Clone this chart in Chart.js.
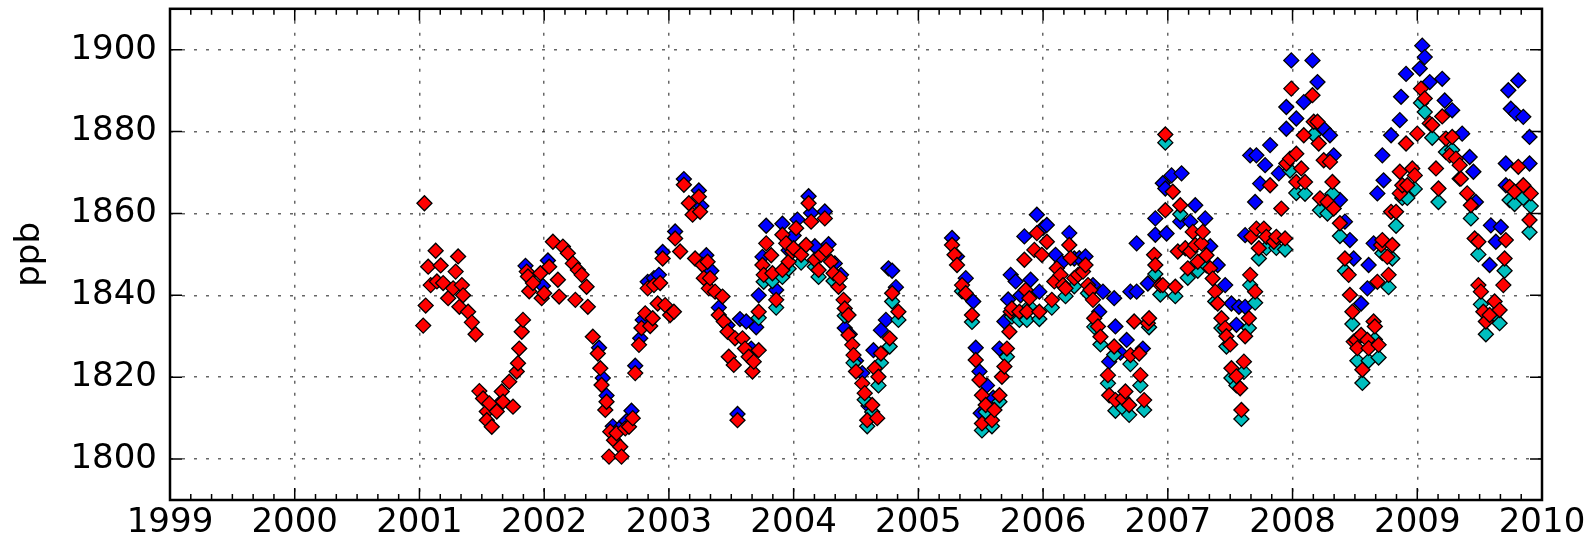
<!DOCTYPE html>
<html>
<head>
<meta charset="utf-8">
<title>ppb</title>
<script src="https://cdn.jsdelivr.net/npm/chart.js@4.4.1/dist/chart.umd.min.js"></script>
<style>
  html, body { margin: 0; padding: 0; background: #fff; }
  #wrap { width: 1589px; height: 547px; }
</style>
</head>
<body>
<div id="wrap"><canvas id="chart" width="1589" height="547"></canvas></div>
<script>
// axis ticks
const yearTicks = [1999, 2000, 2001, 2002, 2003, 2004, 2005, 2006, 2007, 2008, 2009, 2010];
const ppbTicks = [1800, 1820, 1840, 1860, 1880, 1900];

// [decimal year, ppb]
const redPoints = [
  [2001.03,1832.6],[2001.04,1862.5],[2001.05,1837.5],[2001.07,1847],[2001.09,1842.5],[2001.13,1850.9],[2001.14,1843.4],
  [2001.17,1847.3],[2001.19,1843],[2001.23,1839.3],[2001.27,1841.7],[2001.29,1845.8],[2001.31,1849.5],[2001.32,1837.2],
  [2001.34,1842.5],[2001.35,1840],[2001.39,1836],[2001.42,1833.4],[2001.45,1830.5],[2001.48,1816.6],[2001.51,1814.8],
  [2001.54,1811.6],[2001.54,1809.5],[2001.56,1813.6],[2001.58,1807.9],[2001.62,1811.6],[2001.66,1816.5],[2001.67,1814],
  [2001.72,1818.9],[2001.75,1812.8],[2001.78,1821.4],[2001.79,1823.4],[2001.80,1827],[2001.82,1831.1],[2001.83,1834],
  [2001.86,1845.8],[2001.87,1844.6],[2001.88,1841],[2001.91,1843],[2001.97,1845.4],[2001.98,1839.3],[2002.00,1840.5],
  [2002.04,1847],[2002.07,1853.1],[2002.11,1843.8],[2002.12,1839.7],[2002.15,1851.9],[2002.19,1850.3],[2002.23,1847.8],
  [2002.25,1838.9],[2002.27,1846.2],[2002.30,1845],[2002.34,1842.1],[2002.35,1837.2],[2002.39,1829.9],[2002.43,1825.8],
  [2002.45,1822.2],[2002.46,1818.1],[2002.49,1812],[2002.50,1814],[2002.52,1800.6],[2002.53,1806.7],[2002.56,1804.6],
  [2002.58,1806.3],[2002.61,1803],[2002.62,1800.6],[2002.65,1807.5],[2002.68,1807.9],[2002.71,1810],[2002.73,1821],
  [2002.76,1827.9],[2002.78,1832],[2002.81,1835.6],[2002.83,1841.7],[2002.85,1832.5],[2002.87,1834.4],[2002.88,1842.5],
  [2002.91,1838],[2002.93,1843],[2002.95,1849],[2002.97,1837.6],[2003.01,1835.2],[2003.04,1836],[2003.05,1853.9],
  [2003.09,1850.7],[2003.12,1867],[2003.16,1862.5],[2003.19,1859.7],[2003.21,1849],[2003.24,1864.1],[2003.25,1860.4],
  [2003.27,1847.4],[2003.28,1844.2],[2003.31,1848.2],[2003.32,1841.7],[2003.33,1844.2],[2003.37,1840.9],[2003.40,1835.2],
  [2003.43,1839.7],[2003.44,1833.6],[2003.47,1831.1],[2003.48,1825],[2003.52,1823],[2003.53,1829.5],[2003.55,1809.5],
  [2003.59,1829.5],[2003.61,1827],[2003.64,1825],[2003.67,1821.4],[2003.68,1823.8],[2003.72,1826.6],[2003.72,1836],
  [2003.75,1847.4],[2003.76,1845],[2003.78,1852.7],[2003.82,1849.8],[2003.83,1845.4],[2003.86,1838.9],[2003.91,1854.8],
  [2003.91,1846.2],[2003.94,1852.7],[2003.96,1848.2],[2003.99,1850.7],[2004.00,1851.5],[2004.02,1856.4],[2004.06,1849.9],
  [2004.10,1852.3],[2004.12,1862.5],[2004.14,1858],[2004.17,1848.7],[2004.20,1846.2],[2004.22,1849.9],[2004.25,1858.8],
  [2004.26,1851.1],[2004.30,1848.2],[2004.32,1845.4],[2004.36,1842.1],[2004.37,1844.2],[2004.40,1838.9],[2004.41,1836.8],
  [2004.44,1835.2],[2004.44,1830.3],[2004.47,1827.9],[2004.48,1825.4],[2004.50,1821.4],[2004.55,1818.5],[2004.57,1816.1],
  [2004.59,1809.5],[2004.63,1813.2],[2004.65,1822.2],[2004.67,1810],[2004.68,1820.1],[2004.70,1825.8],[2004.77,1829.5],
  [2004.79,1840.5],[2004.84,1836],
  [2005.27,1852.3],[2005.29,1849.9],[2005.31,1847.4],[2005.35,1842.5],[2005.38,1840.5],[2005.43,1835.2],[2005.46,1824.2],
  [2005.49,1819.3],[2005.51,1815.6],[2005.51,1808.7],[2005.54,1813.2],[2005.59,1809.5],[2005.61,1812],[2005.65,1815.6],
  [2005.67,1820.1],[2005.69,1822.6],[2005.71,1827],[2005.73,1831.1],[2005.74,1836],[2005.75,1836.8],[2005.81,1836],
  [2005.85,1848.7],[2005.86,1841.3],[2005.87,1836],[2005.89,1839.3],[2005.93,1851.1],[2005.95,1855.2],[2005.97,1836],
  [2005.99,1849.9],[2006.03,1853.1],[2006.07,1838.9],[2006.09,1843.4],[2006.11,1846.6],[2006.14,1845],[2006.16,1842.5],
  [2006.18,1841.7],[2006.21,1852.3],[2006.22,1849.1],[2006.25,1844.2],[2006.28,1845],[2006.32,1845.8],[2006.34,1847.4],
  [2006.36,1842.5],[2006.38,1841.3],[2006.40,1838.9],[2006.41,1834.4],[2006.44,1832.4],[2006.46,1829.9],[2006.52,1820.5],
  [2006.53,1815.6],[2006.57,1827.5],[2006.58,1814.4],[2006.64,1814.8],[2006.66,1816.5],[2006.69,1813.2],[2006.70,1825.4],
  [2006.73,1833.6],[2006.77,1825.8],[2006.78,1820.5],[2006.81,1814.4],[2006.84,1833.2],[2006.85,1834.4],[2006.89,1849.9],
  [2006.90,1847.4],[2006.94,1842.5],[2006.96,1842.5],[2006.98,1860.8],[2006.98,1879.3],[2007.04,1865.3],[2007.06,1842.1],
  [2007.08,1850.7],[2007.10,1862],[2007.14,1851.5],[2007.16,1846.6],[2007.18,1850.7],[2007.20,1855.5],[2007.22,1852.3],
  [2007.24,1848.2],[2007.27,1852.7],[2007.28,1855.5],[2007.31,1849.8],[2007.34,1846.6],[2007.36,1844.1],[2007.38,1840.9],
  [2007.40,1838],[2007.43,1834.4],[2007.46,1832],[2007.47,1830],[2007.50,1828],[2007.51,1822.2],[2007.55,1820.2],
  [2007.58,1817.3],[2007.59,1812],[2007.61,1823.8],[2007.62,1830],[2007.65,1834.4],[2007.66,1845],[2007.67,1854.3],
  [2007.70,1840.9],[2007.71,1856.3],[2007.73,1851.5],[2007.77,1856.3],[2007.79,1854.3],[2007.82,1866.9],[2007.85,1853.1],
  [2007.87,1854.3],[2007.91,1861.2],[2007.94,1853.9],[2007.95,1872.2],[2007.98,1873.4],[2007.99,1890.5],[2008.03,1867.7],
  [2008.03,1874.6],[2008.07,1871],[2008.09,1879.1],[2008.10,1867.7],[2008.16,1888.9],[2008.17,1882.4],[2008.20,1882.4],
  [2008.21,1877.1],[2008.22,1863.7],[2008.25,1873],[2008.28,1862.8],[2008.30,1872.6],[2008.32,1867.7],[2008.33,1861.2],
  [2008.38,1857.6],[2008.42,1849],[2008.45,1845],[2008.46,1840.1],[2008.48,1836],[2008.49,1828.7],[2008.51,1829.1],
  [2008.52,1827.1],[2008.55,1830.3],[2008.56,1821.8],[2008.60,1829.1],[2008.61,1827.1],[2008.65,1833.6],[2008.66,1832.4],
  [2008.68,1843.3],[2008.69,1827.9],[2008.71,1852.3],[2008.72,1853.5],[2008.76,1849.4],[2008.77,1845],[2008.79,1860.4],
  [2008.80,1852.3],[2008.83,1860.4],[2008.86,1864.9],[2008.86,1870.2],[2008.88,1866.9],[2008.91,1877.1],[2008.92,1866.9],
  [2008.96,1871],[2008.98,1869.3],[2009.00,1879.5],[2009.03,1890.5],[2009.06,1888.1],[2009.10,1882],[2009.12,1881.6],
  [2009.15,1871],[2009.17,1866.1],[2009.20,1883.7],[2009.23,1878.3],[2009.26,1874.2],[2009.28,1878.7],[2009.31,1873.4],
  [2009.34,1871.8],[2009.35,1868.5],[2009.40,1864.9],[2009.43,1862],[2009.46,1853.9],[2009.49,1853.1],[2009.49,1842.5],
  [2009.51,1840.9],[2009.53,1836],[2009.55,1833.6],[2009.58,1835.2],[2009.62,1838.5],[2009.66,1836.4],[2009.69,1842.5],
  [2009.70,1849],[2009.71,1853.5],[2009.74,1866.5],[2009.78,1865.3],[2009.81,1871.4],[2009.85,1866.9],[2009.90,1858.4],
  [2009.91,1864.9]
];

const cyanPoints = [
  [2003.72,1834.5],[2003.76,1843.3],[2003.83,1843.5],[2003.86,1837],[2003.91,1844.5],[2003.96,1846.5],[2004.06,1848],
  [2004.17,1847],[2004.20,1844.5],[2004.32,1843.5],[2004.41,1835],[2004.48,1823.5],[2004.57,1814.5],[2004.59,1808],
  [2004.63,1811.5],[2004.68,1818],[2004.70,1823.5],[2004.77,1827.5],[2004.79,1838.5],[2004.84,1834],
  [2005.35,1841],[2005.43,1833.5],[2005.51,1807],[2005.54,1811.5],[2005.59,1808],[2005.65,1814],[2005.71,1825],
  [2005.75,1834.8],[2005.81,1834],[2005.87,1834],[2005.89,1837.3],[2005.97,1834.2],[2006.07,1837],[2006.14,1843],
  [2006.18,1839.8],[2006.25,1842.2],[2006.36,1840.5],[2006.41,1832.3],[2006.46,1828],[2006.52,1818.5],[2006.57,1825.5],
  [2006.58,1811.8],[2006.64,1812.5],[2006.69,1810.8],[2006.70,1823.2],[2006.78,1818],[2006.81,1812],[2006.85,1832.2],
  [2006.90,1845.2],[2006.94,1840.2],[2006.98,1877.3],
  [2007.06,1839.8],[2007.10,1859.8],[2007.16,1844.3],[2007.24,1846],[2007.31,1847.3],[2007.38,1838.5],[2007.43,1832],
  [2007.47,1827.5],[2007.51,1819.8],[2007.55,1818],[2007.59,1809.8],[2007.61,1821.3],[2007.65,1832],[2007.66,1842.5],
  [2007.70,1838.2],[2007.73,1849],[2007.79,1851.6],[2007.87,1851.6],[2007.94,1851.2],[2007.98,1870.5],[2008.03,1865],
  [2008.10,1864.8],[2008.17,1879.3],[2008.22,1860.8],[2008.28,1860],[2008.32,1864.8],[2008.38,1854.5],[2008.42,1846],
  [2008.48,1833],[2008.52,1824],
  [2008.56,1818.6],[2008.61,1824],[2008.66,1829.2],[2008.69,1824.8],[2008.72,1850.3],[2008.77,1842],[2008.80,1849],
  [2008.83,1857],[2008.88,1863.8],[2008.92,1863.8],[2008.98,1866],[2009.03,1887],[2009.06,1884.8],[2009.12,1878.5],
  [2009.17,1862.8],[2009.23,1875],[2009.28,1875.5],[2009.34,1868.5],[2009.43,1858.8],[2009.49,1850],[2009.51,1837.8],
  [2009.55,1830.5],[2009.62,1835.3],[2009.66,1833.2],[2009.70,1846],[2009.74,1863.3],[2009.78,1862.3],[2009.85,1863.8],
  [2009.90,1855.4],[2009.91,1861.8]
];

const bluePoints = [
  [2001.64,1813.5],[2001.85,1847.2],[2001.99,1842.3],[2002.03,1848.5],[2002.44,1827.2],[2002.47,1819.8],[2002.50,1815.5],
  [2002.55,1808],[2002.60,1807.4],[2002.66,1809.3],[2002.70,1811.8],[2002.73,1822.8],[2002.77,1829.5],[2002.79,1834],
  [2002.83,1843.3],[2002.88,1844.2],[2002.92,1845],[2002.95,1850.6],[2003.05,1855.6],[2003.12,1868.4],[2003.24,1865.6],
  [2003.26,1861.8],[2003.30,1849.8],[2003.34,1846],[2003.40,1837],[2003.47,1832.7],[2003.55,1811],[2003.57,1834.2],
  [2003.62,1833.6],[2003.66,1827],[2003.70,1832.2],[2003.72,1840],[2003.75,1849.4],[2003.78,1857],[2003.86,1841.3],
  [2003.91,1857.5],[2003.96,1851],[2004.00,1854.6],[2004.03,1858.5],[2004.12,1864.2],[2004.14,1860.1],[2004.17,1852],
  [2004.25,1860.5],[2004.28,1852.5],[2004.33,1847.8],[2004.38,1845],[2004.41,1832],[2004.45,1830.5],[2004.50,1824],
  [2004.55,1821],[2004.60,1813],[2004.64,1826.6],[2004.70,1831.5],[2004.74,1834],[2004.76,1846.6],[2004.79,1846],
  [2004.82,1842],
  [2005.27,1854],[2005.31,1849.5],[2005.38,1844.2],[2005.44,1838.5],[2005.46,1827.2],[2005.49,1821.4],[2005.50,1811.2],
  [2005.55,1818],[2005.60,1815],[2005.65,1827],[2005.69,1833.6],[2005.72,1839],[2005.74,1845],[2005.78,1843.4],
  [2005.82,1840],[2005.85,1854.4],[2005.90,1843.8],[2005.95,1859.7],[2005.97,1840.9],[2006.00,1856.5],[2006.03,1857.2],
  [2006.10,1849.9],[2006.15,1848],[2006.21,1855.2],[2006.25,1849],[2006.29,1849.1],[2006.34,1849.5],[2006.40,1842.5],
  [2006.45,1836],[2006.48,1840.9],[2006.53,1823.8],[2006.57,1839.3],[2006.58,1832.4],[2006.62,1826],[2006.67,1829.1],
  [2006.70,1840.9],[2006.75,1840.9],[2006.75,1852.7],[2006.80,1827],[2006.84,1842.9],[2006.90,1854.8],[2006.90,1858.8],
  [2006.96,1867.4],[2006.98,1866.1],[2006.99,1855.1],
  [2007.03,1869.3],[2007.10,1858],[2007.11,1869.8],[2007.18,1858],[2007.22,1862],[2007.30,1858.8],[2007.34,1852],
  [2007.40,1847.4],[2007.46,1842.5],[2007.51,1838],[2007.55,1832.8],[2007.57,1837.2],[2007.62,1837.2],[2007.62,1854.7],
  [2007.66,1874.2],[2007.70,1862.8],[2007.71,1874.2],[2007.74,1867.3],[2007.78,1871.8],[2007.82,1876.7],[2007.89,1869.8],
  [2007.95,1880.7],[2007.95,1886],[2007.99,1897.4],[2008.03,1883.2],[2008.09,1887.2],[2008.16,1897.4],[2008.20,1892.1],
  [2008.25,1880.7],[2008.30,1879.1],[2008.33,1874.2],[2008.38,1863.3],[2008.42,1858],[2008.46,1853.5],[2008.49,1849],
  [2008.55,1838],[2008.60,1841.7],[2008.61,1847.4],[2008.65,1852.7],[2008.68,1864.9],[2008.72,1874.2],[2008.73,1868.1],
  [2008.79,1879.1],[2008.86,1882.8],[2008.87,1888.5],[2008.91,1894.1],[2009.02,1895.4],[2009.04,1901],[2009.06,1898.2],
  [2009.10,1892.1],[2009.20,1892.9],[2009.22,1887.6],[2009.28,1885.2],[2009.36,1879.5],[2009.42,1873.8],[2009.45,1870.2],
  [2009.47,1862.8],[2009.58,1847.4],[2009.59,1857.1],[2009.63,1853.1],[2009.67,1856.7],[2009.71,1866.9],[2009.71,1872.2],
  [2009.73,1890.1],[2009.75,1885.6],[2009.79,1884.4],[2009.81,1892.5],[2009.85,1883.6],[2009.90,1872.2],[2009.90,1878.7]
];

const toXY = pts => pts.map(p => ({ x: p[0], y: p[1] }));

const FONT = { family: 'DejaVu Sans', size: 34 };

// matplotlib style box with inward ticks (major + bi-monthly minor on x)
const axesFrame = {
  id: 'axesFrame',
  afterDraw(chart) {
    const { ctx, chartArea: a, scales } = chart;
    const xs = scales.x, ys = scales.y;
    ctx.save();
    ctx.strokeStyle = '#000';
    ctx.lineWidth = 1.5;
    ctx.beginPath();
    ppbTicks.forEach(v => {
      const py = ys.getPixelForValue(v);
      ctx.moveTo(a.left, py); ctx.lineTo(a.left + 12, py);
      ctx.moveTo(a.right, py); ctx.lineTo(a.right - 12, py);
    });
    yearTicks.forEach((v, i) => {
      const px = xs.getPixelForValue(v);
      ctx.moveTo(px, a.bottom); ctx.lineTo(px, a.bottom - 12);
      ctx.moveTo(px, a.top); ctx.lineTo(px, a.top + 12);
      if (i === yearTicks.length - 1) return;
      for (let k = 1; k < 6; k++) {
        const mx = xs.getPixelForValue(v + k / 6);
        ctx.moveTo(mx, a.bottom); ctx.lineTo(mx, a.bottom - 6);
        ctx.moveTo(mx, a.top); ctx.lineTo(mx, a.top + 6);
      }
    });
    ctx.stroke();
    ctx.lineWidth = 2.5;
    ctx.strokeRect(a.left, a.top, a.right - a.left, a.bottom - a.top);
    ctx.restore();
  }
};

const pointStyle = (fill) => ({
  backgroundColor: fill,
  borderColor: '#000',
  borderWidth: 1.3,
  pointStyle: 'rectRot',
  pointRadius: 7.5,
  pointHoverRadius: 7.5
});

new Chart(document.getElementById('chart'), {
  type: 'scatter',
  data: {
    // first dataset is painted last (on top)
    datasets: [
      { label: 'red', data: toXY(redPoints), ...pointStyle('#ff0000') },
      { label: 'cyan', data: toXY(cyanPoints), ...pointStyle('#00bfbf') },
      { label: 'blue', data: toXY(bluePoints), ...pointStyle('#0000ff') }
    ]
  },
  options: {
    responsive: false,
    devicePixelRatio: 1,
    animation: false,
    events: [],
    layout: { padding: { top: 7, right: 47, bottom: 0, left: 0 } },
    plugins: {
      legend: { display: false },
      tooltip: { enabled: false }
    },
    scales: {
      x: {
        type: 'linear',
        min: 1999,
        max: 2010,
        afterBuildTicks: s => { s.ticks = yearTicks.map(v => ({ value: v })); },
        afterFit: s => { s.height = 47; s.paddingLeft = 0; s.paddingRight = 0; },
        ticks: {
          font: FONT,
          color: '#000',
          padding: 3,
          autoSkip: false,
          maxRotation: 0,
          callback: v => String(v)
        },
        grid: { color: 'rgba(0,0,0,0.6)', lineWidth: 1.5, drawTicks: false },
        border: { display: false, dash: [3, 9] }
      },
      y: {
        min: 1790,
        max: 1910,
        afterBuildTicks: s => { s.ticks = ppbTicks.map(v => ({ value: v })); },
        afterFit: s => { s.width = 170; s.paddingTop = 0; s.paddingBottom = 0; },
        title: { display: true, text: 'ppb', font: FONT, color: '#000', padding: { top: 10, bottom: 0 } },
        ticks: {
          font: FONT,
          color: '#000',
          padding: 13,
          callback: v => String(v)
        },
        grid: { color: 'rgba(0,0,0,0.6)', lineWidth: 1.5, drawTicks: false },
        border: { display: false, dash: [3, 9] }
      }
    }
  },
  plugins: [axesFrame]
});
</script>
</body>
</html>
